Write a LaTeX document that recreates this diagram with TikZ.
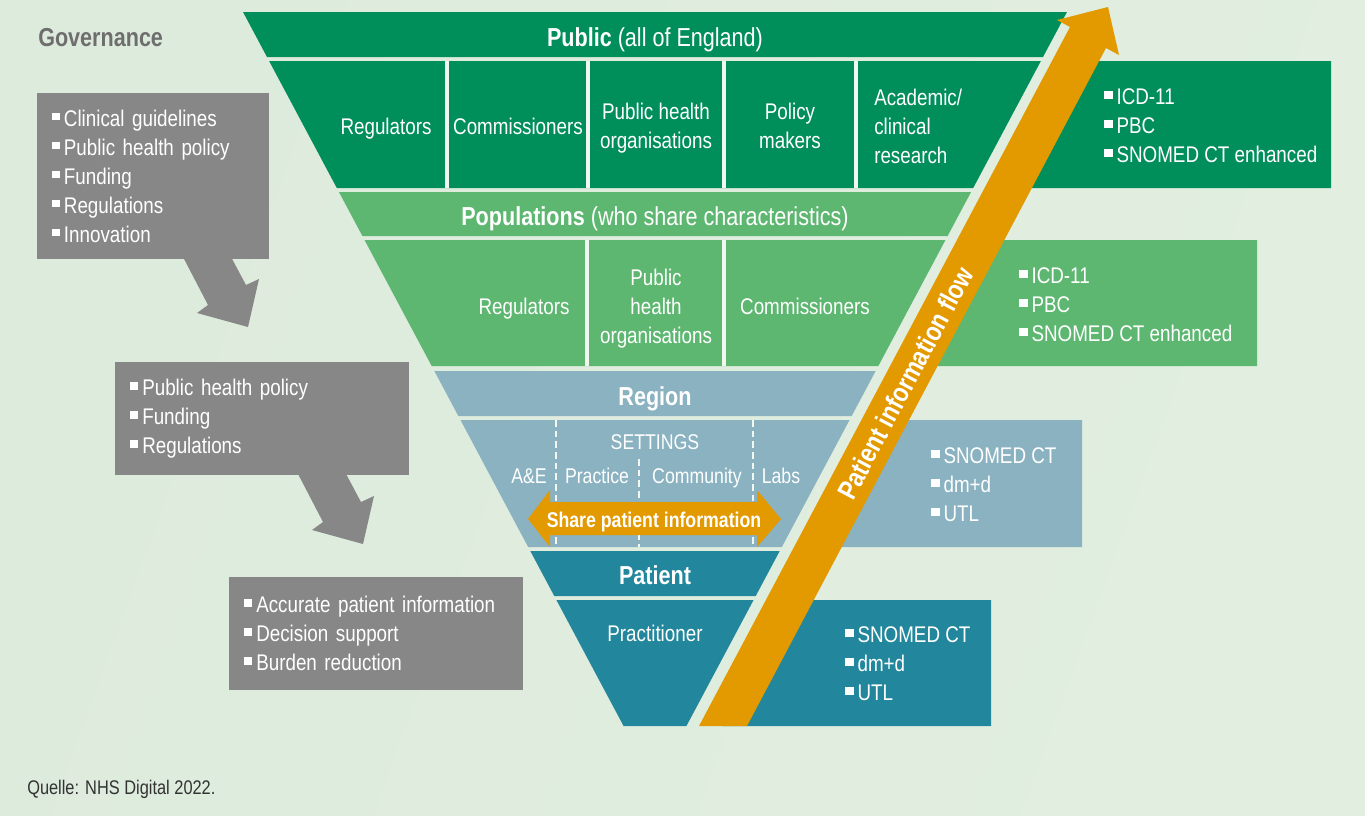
\documentclass[tikz,border=0pt]{standalone}
\usepackage{fontspec}
\setmainfont{Liberation Sans}[FakeStretch=0.83]
\usetikzlibrary{calc}

\definecolor{pubgreen}{HTML}{008F5A}
\definecolor{popgreen}{HTML}{5DB771}
\definecolor{regblue}{HTML}{8AB2C1}
\definecolor{patteal}{HTML}{22879C}
\definecolor{flow}{HTML}{E39A00}
\definecolor{govgray}{HTML}{878787}
\definecolor{govtext}{HTML}{6E6E6E}
\definecolor{srctext}{HTML}{333333}
\definecolor{bgleft}{HTML}{DDEBDC}
\definecolor{bgmid}{HTML}{EDF4EC}
\definecolor{bgright}{HTML}{E1EEE0}
\definecolor{gapwhite}{HTML}{F2F7F1}

\newcommand\sq{\rule[4.4pt]{6.2pt}{5.8pt}\hspace{3pt}}
% one layer of the funnel: top y, bottom y, colour
\newcommand\frow[3]{\fill[#3] ({243+0.533*(#1-12)},#1) -- ({1067-0.533*(#1-12)},#1)
  -- ({1067-0.533*(#2-12)},#2) -- ({243+0.533*(#2-12)},#2) -- cycle;}
% code box behind the flow arrow: top y, bottom y, right x, colour
\newcommand\codebox[4]{\fill[#4] ({723+0.53*(726-#1)},#1) -- (#3,#1) -- (#3,#2)
  -- ({723+0.53*(726-#2)},#2) -- cycle;}
% grey block arrow, shifted
\newcommand\govarrow[2]{\fill[govgray, shift={(#1,#2)}] (182,255) -- (208,305) -- (197,313)
  -- (248,327) -- (259,279) -- (246,285) -- (230,255) -- cycle;}

\tikzset{
  lbl/.style={text=white, font=\fontsize{17}{21.75}\selectfont, align=center,
    inner sep=0pt, text depth=0pt},
  ttl/.style={text=white, font=\fontsize{19.5}{23}\selectfont, inner sep=0pt,
    text depth=0pt},
  govbox/.style={fill=govgray, text=white, font=\fontsize{17}{21.75}\selectfont,
    align=left, inner sep=0pt},
  codes/.style={text=white, font=\fontsize{17}{21.75}\selectfont, align=left,
    inner sep=0pt, text depth=0pt, anchor=west},
  cellsep/.style={gapwhite, line width=3pt},
  setsep/.style={gapwhite, line width=1.1pt, dash pattern=on 5pt off 3pt}
}

\begin{document}
\begin{tikzpicture}[x=0.75pt, y=-0.75pt]

      % background
      \useasboundingbox (0,0) rectangle (1365,815);
      \shade[left color=bgleft, middle color=bgmid, right color=bgright,
      shading angle=70] (0,0) rectangle (1365,815);

      % governance
      \node [anchor=west, text=govtext, inner sep=0pt, text depth=0pt,
      font=\fontsize{19.5}{23}\selectfont\bfseries] (gov) at (38,37) {Governance};

      \govarrow{0}{0}
      \govarrow{115}{217}

      \node [govbox, minimum width=174pt, minimum height=124.5pt, text width=152pt]
      (gov1) at (153,176) {\sq Clinical guidelines\\\sq Public health policy\\
      \sq Funding\\\sq Regulations\\\sq Innovation};
      \node [govbox, minimum width=220.5pt, minimum height=84.75pt, text width=198pt]
      (gov2) at (262,418.5) {\sq Public health policy\\\sq Funding\\\sq Regulations};
      \node [govbox, minimum width=220.5pt, minimum height=84.75pt, text width=198pt]
      (gov3) at (376,633.5) {\sq Accurate patient information\\\sq Decision support\\
      \sq Burden reduction};

      % code boxes
      \codebox{61}{188}{1331}{pubgreen}
      \codebox{240}{366}{1257}{popgreen}
      \codebox{420}{547}{1082}{regblue}
      \codebox{600}{726}{991}{patteal}

      % funnel
      \frow{12}{57}{pubgreen}
      \frow{61}{188}{pubgreen}
      \frow{192}{236}{popgreen}
      \frow{240}{366}{popgreen}
      \frow{371}{416}{regblue}
      \frow{420}{547}{regblue}
      \frow{551}{596}{patteal}
      \frow{600}{726}{patteal}

      \draw [cellsep] (447,61) -- (447,188);
      \draw [cellsep] (588,61) -- (588,188);
      \draw [cellsep] (724,61) -- (724,188);
      \draw [cellsep] (856,61) -- (856,188);
      \draw [cellsep] (587,240) -- (587,366);
      \draw [cellsep] (724,240) -- (724,366);
      \draw [setsep] (556,420) -- (556,547);
      \draw [setsep] (639,459) -- (639,547);
      \draw [setsep] (753,420) -- (753,547);

      % public
      \node [ttl] (public) at (655,37) {\textbf{Public} (all of England)};
      \node [lbl] (reg1) at (386,126) {Regulators};
      \node [lbl] (com1) at (518,126) {Commissioners};
      \node [lbl] (phe1) at (656,126) {Public health\\organisations};
      \node [lbl] (pol1) at (790,126) {Policy\\makers};
      \node [lbl, anchor=west, align=left] (aca1) at (874,126) {Academic/\\clinical\\research};

      % populations
      \node [ttl] (popul) at (655,216) {\textbf{Populations} (who share characteristics)};
      \node [lbl] (reg2) at (524,306) {Regulators};
      \node [lbl] (phe2) at (656,306) {Public\\health\\organisations};
      \node [lbl] (com2) at (805,306) {Commissioners};

      % region
      \node [ttl, font=\fontsize{19.5}{23}\selectfont\bfseries] (region) at (655,396) {Region};
      \node [lbl, font=\fontsize{16}{20}\selectfont] (settings) at (655,442) {SETTINGS};
      \node [lbl, font=\fontsize{16}{20}\selectfont] (ae) at (529,476) {A\&E};
      \node [lbl, font=\fontsize{16}{20}\selectfont] (prac) at (597,476) {Practice};
      \node [lbl, font=\fontsize{16}{20}\selectfont] (comm) at (697,476) {Community};
      \node [lbl, font=\fontsize{16}{20}\selectfont] (labs) at (781,476) {Labs};

      \fill [flow] (528,519) -- (550,490) -- (550,502) -- (757,502) -- (757,490)
      -- (781,519) -- (757,547) -- (757,535) -- (550,535) -- (550,547) -- cycle;
      \node [lbl, font=\fontsize{16}{20}\selectfont\bfseries] (share) at (654,520)
      {Share patient information};

      % patient
      \node [ttl, font=\fontsize{19.5}{23}\selectfont\bfseries] (patient) at (655,575) {Patient};
      \node [lbl] (pract) at (655,633) {Practitioner};

      % flow arrow
      \fill [flow] (699,726) -- (1070,27) -- (1057,20) -- (1108,7) -- (1119,55)
      -- (1106,48) -- (747,726) -- cycle;
      \node [ttl, rotate=62, font=\fontsize{20.5}{24}\selectfont\bfseries] (flowlbl)
      at (905,383) {Patient information flow};

      % codes
      \node [codes] (codes1) at (1104,126) {\sq ICD-11\\\sq PBC\\\sq SNOMED CT enhanced};
      \node [codes] (codes2) at (1019,305) {\sq ICD-11\\\sq PBC\\\sq SNOMED CT enhanced};
      \node [codes] (codes3) at (931,485) {\sq SNOMED CT\\\sq dm+d\\\sq UTL};
      \node [codes] (codes4) at (845,664) {\sq SNOMED CT\\\sq dm+d\\\sq UTL};

      % source
      \node [anchor=west, text=srctext, inner sep=0pt, text depth=0pt,
      font=\fontsize{14.8}{18}\selectfont] (src) at (27,787) {Quelle: NHS Digital 2022.};

\end{tikzpicture}
\end{document}
